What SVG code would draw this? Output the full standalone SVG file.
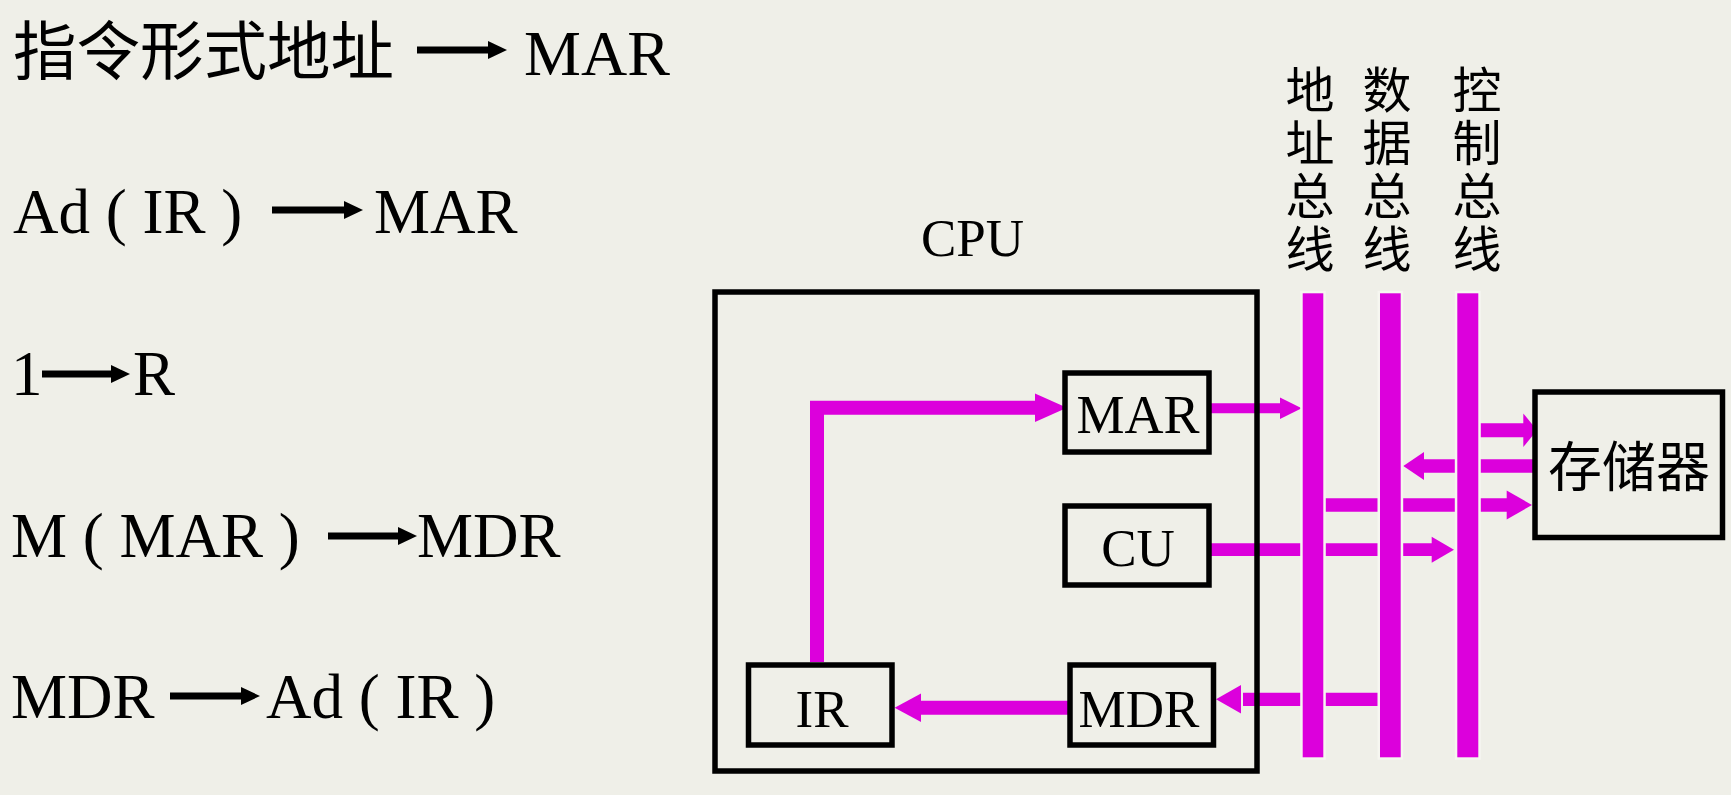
<svg xmlns="http://www.w3.org/2000/svg" width="1731" height="795" viewBox="0 0 1731 795">
<style>
.ser{font-family:"Liberation Serif","Times New Roman",serif;fill:#000}
.cjk{font-family:"Noto Sans CJK SC","Noto Sans",sans-serif;fill:#000}
.lbl{font-size:49px;writing-mode:vertical-rl;letter-spacing:4px}
.box{fill:none;stroke:#000;stroke-width:5.5}
.mg{stroke:#DC00DC;fill:none}
.mgf{fill:#DC00DC}
.bus{fill:#DC00DC;stroke:#F6F6F0;stroke-width:5;paint-order:stroke}
.blk{stroke:#000;stroke-width:7;fill:none}
.blkf{fill:#000}
</style>
<rect x="0" y="0" width="1731" height="795" fill="#EFEFE8"/>

<g id="formulas">
  <g id="line1">
    <text class="cjk" x="13" y="74" font-size="63.5">指令形式地址</text>
    <line class="blk" x1="417" y1="50" x2="492" y2="50"/>
    <polygon class="blkf" points="488,41 507,50 488,59"/>
    <text class="ser" x="524" y="75" font-size="64">MAR</text>
  </g>
  <g id="line2">
    <text class="ser" x="13" y="233" font-size="63">Ad ( IR )</text>
    <line class="blk" x1="272" y1="210" x2="348" y2="210"/>
    <polygon class="blkf" points="344,201 363,210 344,219"/>
    <text class="ser" x="374" y="233" font-size="63">MAR</text>
  </g>
  <g id="line3">
    <text class="ser" x="11" y="395" font-size="63">1</text>
    <line class="blk" x1="42" y1="374" x2="115" y2="374"/>
    <polygon class="blkf" points="111,365 130,374 111,383"/>
    <text class="ser" x="133" y="395" font-size="63">R</text>
  </g>
  <g id="line4">
    <text class="ser" x="11" y="557" font-size="63">M ( MAR )</text>
    <line class="blk" x1="328" y1="536" x2="402" y2="536"/>
    <polygon class="blkf" points="398,527 417,536 398,545"/>
    <text class="ser" x="417" y="557" font-size="63">MDR</text>
  </g>
  <g id="line5">
    <text class="ser" x="11" y="718" font-size="63">MDR</text>
    <line class="blk" x1="170" y1="696" x2="245" y2="696"/>
    <polygon class="blkf" points="241,687 260,696 241,705"/>
    <text class="ser" x="266" y="718" font-size="63">Ad ( IR )</text>
  </g>
</g>

<g id="bus-labels">
  <text id="label-address" class="cjk lbl" x="1310" y="65">地址总线</text>
  <text id="label-data" class="cjk lbl" x="1387" y="65">数据总线</text>
  <text id="label-control" class="cjk lbl" x="1477" y="65">控制总线</text>
</g>

<g id="connectors">
  <!-- IR -> MAR -->
  <path class="mg" stroke-width="14" stroke-linejoin="miter" d="M817,662 V407.8 H1037"/>
  <polygon class="mgf" points="1035,393.5 1067,407.8 1035,422"/>
  <!-- MDR -> IR -->
  <line class="mg" stroke-width="14" x1="1068" y1="707.8" x2="919" y2="707.8"/>
  <polygon class="mgf" points="921,693.5 894.6,707.8 921,722"/>
  <!-- data bus -> MDR -->
  <line class="mg" stroke-width="13.3" x1="1390" y1="699.3" x2="1243" y2="699.3"/>
  <polygon class="mgf" points="1241,685 1216,699.3 1241,713.5"/>
  <!-- MAR -> address bus -->
  <line class="mg" stroke-width="10" x1="1211" y1="408.3" x2="1282" y2="408.3"/>
  <polygon class="mgf" points="1280,397.5 1301.7,408.3 1280,419"/>
  <!-- CU -> control bus -->
  <line class="mg" stroke-width="12.7" x1="1211" y1="549.7" x2="1434" y2="549.7"/>
  <polygon class="mgf" points="1431.7,536.7 1454,549.7 1431.7,562.7"/>
  <!-- address bus -> memory -->
  <line class="mg" stroke-width="13.3" x1="1313" y1="505" x2="1509" y2="505"/>
  <polygon class="mgf" points="1506.7,490.5 1532,505 1506.7,519.5"/>
  <!-- memory -> data bus -->
  <line class="mg" stroke-width="13.7" x1="1535" y1="466" x2="1422" y2="466"/>
  <polygon class="mgf" points="1424,452 1403.3,466 1424,480"/>
  <!-- control bus -> memory -->
  <line class="mg" stroke-width="14" x1="1468" y1="430.3" x2="1525" y2="430.3"/>
  <polygon class="mgf" points="1523.3,413.5 1537,430.3 1523.3,447"/>
</g>

<g id="buses">
  <rect id="address-bus" class="bus" x="1302.7" y="293.3" width="20.6" height="464"/>
  <rect id="data-bus" class="bus" x="1380" y="293.3" width="20.7" height="464"/>
  <rect id="control-bus" class="bus" x="1457.3" y="293.3" width="21" height="464"/>
</g>

<g id="cpu">
  <rect class="box" x="715" y="292" width="542" height="479" stroke-width="5.5"/>
  <text class="ser" x="972.5" y="256" font-size="53" text-anchor="middle">CPU</text>
</g>
<g id="mar">
  <rect class="box" x="1065" y="373" width="144" height="79"/>
  <text class="ser" x="1138" y="433" font-size="54" text-anchor="middle">MAR</text>
</g>
<g id="cu">
  <rect class="box" x="1065" y="506" width="144" height="79"/>
  <text class="ser" x="1138" y="566" font-size="53" text-anchor="middle">CU</text>
</g>
<g id="mdr">
  <rect class="box" x="1070" y="665" width="143.5" height="80"/>
  <text class="ser" x="1139" y="727" font-size="53" text-anchor="middle">MDR</text>
</g>
<g id="ir">
  <rect class="box" x="748.5" y="665" width="143.5" height="80"/>
  <text class="ser" x="822" y="727" font-size="53" text-anchor="middle">IR</text>
</g>
<g id="memory">
  <rect class="box" x="1535" y="392" width="187.5" height="145.5" stroke-width="6"/>
  <text class="cjk" x="1629" y="487" font-size="54" text-anchor="middle">存储器</text>
</g>
</svg>
